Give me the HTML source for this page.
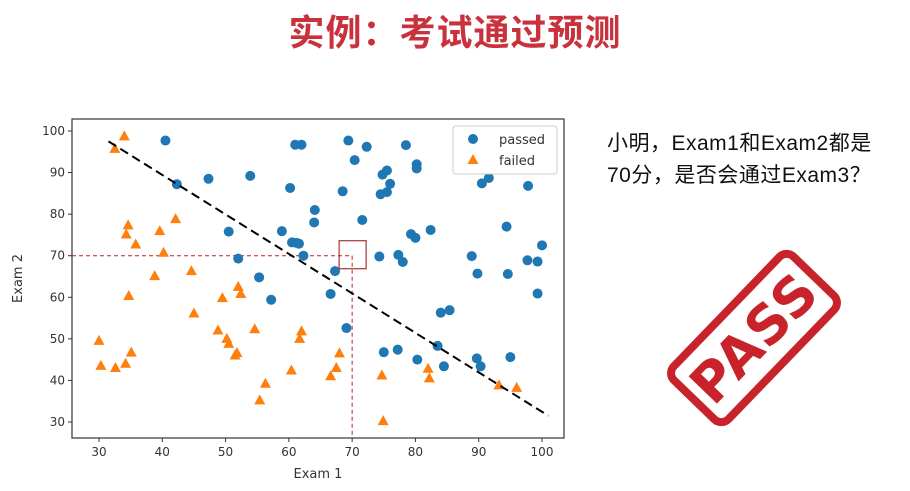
<!DOCTYPE html>
<html><head><meta charset="utf-8">
<style>
html,body{margin:0;padding:0;background:#fff;width:910px;height:491px;overflow:hidden}
body{position:relative;font-family:"Liberation Sans","Noto Sans CJK SC",sans-serif}
#title{position:absolute;left:0;width:910px;top:4px;text-align:center;font-size:36px;font-weight:bold;color:#c9323d;letter-spacing:1px;font-family:"Liberation Sans","Noto Sans CJK SC",sans-serif}
#question{position:absolute;left:607px;top:128px;font-size:21px;line-height:32px;color:#111;letter-spacing:0.5px;font-family:"Liberation Sans","Noto Sans CJK SC",sans-serif}
svg text{font-family:"DejaVu Sans","Liberation Sans",sans-serif}
</style></head><body>
<div id="title">实例：考试通过预测</div>
<div id="question">小明，Exam1和Exam2都是<br>70分，是否会通过Exam3？</div>

<svg id="stamp" width="910" height="491" style="position:absolute;left:0;top:0">
  <g transform="translate(754,338) rotate(-46)">
    <rect x="-86" y="-38" width="172" height="76" rx="10" fill="none" stroke="#c8232a" stroke-width="8"/>
    <text x="0" y="19" text-anchor="middle" font-size="54" font-weight="bold" fill="#c8232a" font-family="Liberation Sans, sans-serif" letter-spacing="1">PASS</text>
  </g>
</svg>

<svg id="chart" width="910" height="491" style="position:absolute;left:0;top:0"></svg>

<script>
const xTicks=[30,40,50,60,70,80,90,100];
const yTicks=[30,40,50,60,70,80,90,100];
const passedX=[40.5,61,62,69.4,72.3,78.5,80.2,80.2,70.4,75.5,74.8,47.3,53.9,42.3,60.2,68.5,74.5,75.5,76,90.5,91.6,97.8,64.1,64,71.6,50.5,58.9,60.5,61.2,61.6,62.3,79.3,80,82.4,94.4,100,52,74.3,77.3,78,88.9,97.7,99.3,67.3,55.3,89.8,94.6,57.2,66.6,99.3,84,85.4,69.1,83.5,75,77.2,80.3,89.7,95,84.5,90.3];
const passedY=[97.7,96.7,96.7,97.7,96.2,96.6,92,91,93,90.5,89.5,88.5,89.2,87.2,86.3,85.5,84.8,85.3,87.3,87.4,88.7,86.8,81,78,78.6,75.8,75.9,73.2,73.1,72.9,70,75.2,74.3,76.2,77,72.5,69.3,69.8,70.2,68.5,69.9,68.9,68.6,66.3,64.8,65.7,65.6,59.4,60.8,60.9,56.3,56.9,52.6,48.3,46.8,47.4,45,45.3,45.6,43.4,43.4];
const failedX=[34,32.5,42.1,34.6,34.3,39.6,35.8,40.2,44.6,38.8,52,52.4,34.7,49.5,45,30,35.1,30.3,32.6,34.2,48.8,50.2,50.5,51.5,51.8,54.6,62,61.7,68,67.5,66.6,60.4,56.3,55.4,74.7,82,82.2,93.2,96,74.9];
const failedY=[98.7,95.7,78.8,77.3,75.1,75.9,72.7,70.7,66.3,65.1,62.5,60.8,60.3,59.8,56.1,49.5,46.7,43.5,43,44,52,50,48.8,46,46.6,52.3,51.8,50,46.5,43,41,42.4,39.2,35.2,41.2,42.8,40.5,38.8,38.2,30.2];
const boundaryX=[31.5,101];
const boundaryY=[97.5,31.5];
const queryPoint=[70,70];

const L=72,R=564,T=119,B=438;
const sx=v=>99+(v-30)*(542-99)/70;
const sy=v=>422-(v-30)*(422-131)/70;
const svg=document.getElementById('chart');
const NS='http://www.w3.org/2000/svg';
function mk(tag,attrs,parent){const e=document.createElementNS(NS,tag);for(const k in attrs)e.setAttribute(k,attrs[k]);(parent||svg).appendChild(e);return e;}

const frame=mk('rect',{x:L,y:T,width:R-L,height:B-T,fill:'none',stroke:'#333','stroke-width':1.2});



xTicks.forEach(t=>{
  const x=sx(t);
  const tk=mk('line',{x1:x,x2:x,y1:B,y2:B+4,stroke:'#333'});
  
  
  const lb=mk('text',{x:x,y:B+18,'text-anchor':'middle','font-size':12,fill:'#333'});
  lb.textContent=t;
  
  
});
yTicks.forEach(t=>{
  const y=sy(t);
  const tk=mk('line',{x1:L-4,x2:L,y1:y,y2:y,stroke:'#333'});
  
  
  const lb=mk('text',{x:L-7,y:y+4,'text-anchor':'end','font-size':12,fill:'#333'});
  lb.textContent=t;
  
  
});
const xt=mk('text',{x:(L+R)/2,y:478,'text-anchor':'middle','font-size':13,fill:'#333'});
xt.textContent='Exam 1';


const yt=mk('text',{x:22,y:(T+B)/2,'text-anchor':'middle','font-size':13,fill:'#333',transform:`rotate(-90 22 ${(T+B)/2})`});
yt.textContent='Exam 2';



const qx=sx(queryPoint[0]),qy=sy(queryPoint[1]);
const h=mk('line',{x1:L,x2:qx,y1:qy,y2:qy,stroke:'#b22',"stroke-dasharray":'4,3','stroke-width':1});


const v=mk('line',{x1:qx,x2:qx,y1:qy,y2:B,stroke:'#b22',"stroke-dasharray":'4,3','stroke-width':1});



passedX.forEach((x,i)=>{
  const c=mk('circle',{cx:sx(x),cy:sy(passedY[i]),r:5,fill:'#1f77b4'});
  
  
});
failedX.forEach((x,i)=>{
  const px=sx(x),py=sy(failedY[i]);
  const p=mk('polygon',{points:`${px},${py-6} ${px-5.5},${py+4} ${px+5.5},${py+4}`,fill:'#ff7f0e'});
  
  
});

const qb=mk('rect',{x:qx-13,y:qy-15,width:27,height:28,fill:'none',stroke:'#a33','stroke-width':1.2});



const bl=mk('line',{x1:sx(boundaryX[0]),y1:sy(boundaryY[0]),x2:sx(boundaryX[1]),y2:sy(boundaryY[1]),stroke:'#000','stroke-width':2,'stroke-dasharray':'9,5'});



const lg=mk('g',{});


mk('rect',{x:453,y:126,width:104,height:48,fill:'#fff',stroke:'#ccc',rx:3},lg);
const lc=mk('circle',{cx:473,cy:139,r:5,fill:'#1f77b4'},lg);


const l1=mk('text',{x:499,y:144,'font-size':13,fill:'#333'},lg);
l1.textContent='passed';


const lt=mk('polygon',{points:'473,154 467.5,164 478.5,164',fill:'#ff7f0e'},lg);


const l2=mk('text',{x:499,y:165,'font-size':13,fill:'#333'},lg);
l2.textContent='failed';


</script>
</body></html>
